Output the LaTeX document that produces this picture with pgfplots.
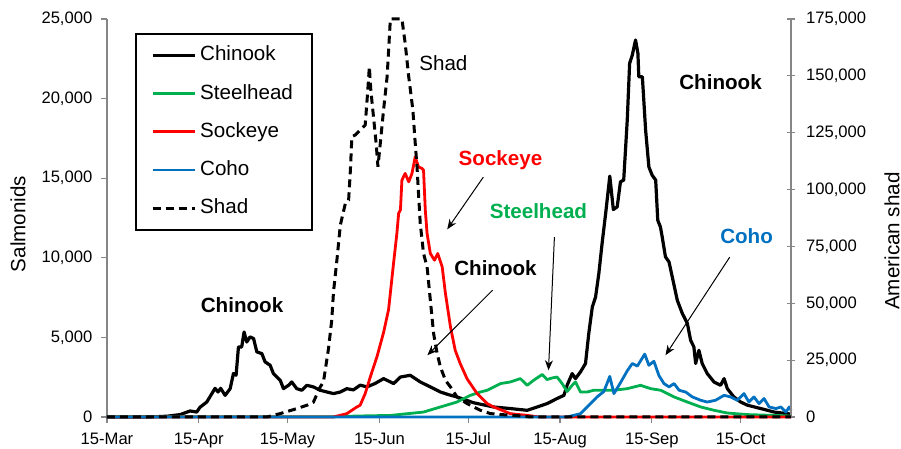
\documentclass[border=0pt]{standalone}
\usepackage{pgfplots}
\pgfplotsset{compat=1.18}
\usepackage{fontspec}
\setmainfont{Liberation Sans}
\usetikzlibrary{arrows.meta}
\definecolor{shgreen}{RGB}{0,176,80}
\definecolor{shblue}{RGB}{0,112,192}
\definecolor{shred}{RGB}{255,0,0}
\definecolor{axgray}{RGB}{134,134,134}
\newcommand{\tfont}{\fontsize{8.3}{10}\selectfont}
\newcommand{\lfont}{\fontsize{10.3}{12}\selectfont}
\begin{document}
\begin{tikzpicture}
\pgfplotsset{
  common/.style={
    width=342pt, height=199pt, scale only axis,
    xmin=0, xmax=231, clip=false,
    axis line style={axgray, line width=0.6pt},
    tick style={axgray, line width=0.6pt},
    ticklabel style={font=\tfont, text=black},
    /pgf/number format/fixed,
    /pgf/number format/precision=0,
    /pgf/number format/1000 sep={,},
    /pgf/number format/assume math mode=true,
    scaled y ticks=false,
    label style={font=\lfont},
  }
}
\begin{axis}[common,
  name=ax1,
  axis x line*=bottom, axis y line*=left,
  ymin=0, ymax=25000,
  ytick={0,5000,10000,15000,20000,25000},
  xtick={0,31,61,92,122,153,184,214},
  xticklabels={15-Mar,15-Apr,15-May,15-Jun,15-Jul,15-Aug,15-Sep,15-Oct},
  tick align=outside, major tick length=2.8pt,
  xticklabel style={yshift=-1.5pt},
  yticklabel style={xshift=-1pt},
  ylabel={Salmonids},
  ylabel style={at={(rel axis cs:-0.130,0.485)}, anchor=center},
  legend style={at={(rel axis cs:0.0409,0.965)}, anchor=north west,
    draw=black, line width=1pt, fill=white, font=\lfont,
    inner xsep=7.5pt, inner ysep=4pt, row sep=5.6pt,
    nodes={inner sep=2pt, text height=7.5pt, text depth=2pt}},
  legend cell align=left,
  legend image code/.code={\draw[#1] (0pt,0pt) -- (21pt,0pt);},
]
\addplot[black, line width=1.6pt, line join=round] coordinates {
(0,0)(14.5,0)(20.3,50)(24.7,150)(28.1,380)(30.3,310)(31.4,610)(33.7,940)(36.5,1800)(37.5,1570)(38.4,1800)(39.9,1360)(41.6,1780)(42.7,2730)(43.6,2620)(44.4,4400)(45.5,4400)(46.3,5340)(47.2,4710)(48.3,5030)(49.5,4930)(50.6,4090)(52.3,3980)(53.4,3460)(55.1,3250)(56.2,2730)(57.4,2510)(58.5,2310)(59.6,1780)(61.3,1990)(62.4,2200)(64.1,1780)(65.8,1680)(67.5,1990)(69.7,1890)(72.0,1680)(74.3,1570)(76.5,1470)(78.8,1570)(81.0,1780)(83.2,1700)(85.5,2000)(87.8,1890)(90.5,2100)(93.4,2410)(96.8,2100)(99.1,2510)(102.4,2620)(105.8,2200)(109.2,1890)(112.6,1570)(115.4,1400)(118.2,1260)(123.7,900)(130.5,630)(136.2,530)(141.9,420)(145.3,630)(148.6,840)(152.0,1160)(154.3,1360)(155.4,2000)(157.1,2730)(158.2,2410)(159.9,2830)(161.6,3360)(162.7,5240)(163.9,6910)(165.0,7540)(166.1,9010)(167.2,10900)(168.4,12780)(169.8,15130)(171.0,13030)(172.3,13200)(173.4,14770)(174.5,14880)(175.7,18650)(176.5,22210)(177.4,22730)(178.5,23680)(179.3,22840)(179.6,21370)(180.8,21370)(181.9,18020)(183.0,15710)(184.1,15190)(185.3,14880)(186.0,12360)(186.9,11940)(187.5,11310)(188.6,10060)(189.8,9740)(190.9,8800)(192.6,7330)(194.3,6500)(196.0,5870)(197.1,4820)(198.2,4400)(198.8,3360)(199.9,4190)(201.0,3360)(202.7,2730)(205.0,2200)(207.2,1990)(208.4,2410)(209.5,1780)(211.7,1260)(214.0,940)(216.3,740)(220.8,530)(225.3,310)(229.8,210)(231,180)
};
\addlegendentry{Chinook}
\addplot[shgreen, line width=1.4pt, line join=round] coordinates {
(0,20)(76.4,20)(84.4,60)(95.7,100)(106.9,310)(112.6,630)(118.2,940)(122.7,1360)(126.1,1570)(128.4,1680)(132.9,2100)(136.2,2200)(139.6,2410)(141.9,1990)(144.1,2310)(147.0,2670)(148.6,2350)(150.3,2450)(152.0,2510)(153.7,2100)(155.4,1600)(157.1,1990)(158.2,2200)(159.9,1570)(162.2,1570)(164.4,1680)(168.9,1680)(171.2,1680)(175.7,1780)(180.2,1990)(183.6,1780)(187.0,1680)(191.5,1260)(196.0,940)(200.5,630)(205.0,420)(209.5,250)(216.3,150)(225.3,100)(231,60)
};
\addlegendentry{Steelhead}
\addplot[shred, line width=1.4pt, line join=round] coordinates {
(0,0)(76.4,0)(81.0,210)(84.4,630)(85.5,740)(87.2,1470)(88.9,2500)(91.2,3800)(93.4,5300)(95.1,6750)(96.8,9700)(97.9,11530)(98.5,12800)(99.1,13000)(99.6,14880)(100.7,15300)(101.9,14770)(103.0,15300)(104.1,16340)(105.2,15710)(106.4,15610)(106.9,15500)(107.5,13000)(108.1,11530)(109.2,10270)(110.6,9850)(111.7,10270)(113.2,9430)(114.3,7760)(116.0,5660)(117.6,4190)(119.3,3350)(121.6,2400)(125.0,1470)(128.4,840)(130.6,630)(136.2,210)(141.9,100)(146,0)(231,0)
};
\addlegendentry{Sockeye}
\addplot[shblue, line width=1.4pt, line join=round] coordinates {
(0,0)(155.4,0)(159.9,210)(163.3,840)(165.5,1260)(167.8,1600)(169.8,2550)(171.2,1470)(173.4,2150)(175.7,2900)(177.4,3360)(179.1,3200)(181.6,3950)(183.0,3250)(184.7,3500)(186.4,2600)(188.1,2100)(189.8,1890)(191.5,2100)(193.2,1680)(195.4,1570)(197.7,1260)(200.5,1050)(202.7,940)(205.5,1050)(208.4,1360)(210.6,1260)(212.9,1050)(215.1,1470)(216.8,940)(218.5,1260)(220.2,840)(221.9,1160)(223.6,630)(225.9,530)(227.6,630)(229.3,310)(230.4,630)(231,420)
};
\addlegendentry{Coho}
\addlegendimage{black, line width=1.5pt, dash pattern=on 4pt off 2.5pt}
\addlegendentry{Shad}
% annotations
\node[font=\lfont] at (axis cs:113.6,22230) {Shad};
\node[font=\lfont\bfseries, text=shred] at (axis cs:132.9,16130) {Sockeye};
\draw[line width=0.5pt, -{Stealth[length=5pt,width=4pt]}] (axis cs:127.1,15070) -- (axis cs:114.9,11790);
\node[font=\lfont\bfseries, text=shgreen] at (axis cs:145.7,12930) {Steelhead};
\draw[line width=0.5pt, -{Stealth[length=5pt,width=4pt]}] (axis cs:151.1,11300) -- (axis cs:149.1,2935);
\node[font=\lfont\bfseries] at (axis cs:131.2,9350) {Chinook};
\draw[line width=0.5pt, -{Stealth[length=5pt,width=4pt]}] (axis cs:130.2,7960) -- (axis cs:108.2,3880);
\node[font=\lfont\bfseries] at (axis cs:207.2,21040) {Chinook};
\node[font=\lfont\bfseries] at (axis cs:45.6,7020) {Chinook};
\node[font=\lfont\bfseries, text=shblue] at (axis cs:216.0,11360) {Coho};
\draw[line width=0.5pt, -{Stealth[length=5pt,width=4pt]}] (axis cs:210.3,10040) -- (axis cs:188.6,3880);
\coordinate (bbl) at (rel axis cs:-0.1564,-0.0804);
\coordinate (btr) at (rel axis cs:1.1608,1.0477);
\end{axis}
\begin{axis}[common,
  axis x line=none, axis y line*=right,
  ymin=0, ymax=175000,
  ytick={0,25000,50000,75000,100000,125000,150000,175000},
  tick align=center, major tick length=4pt,
  yticklabel style={xshift=2pt},
  ylabel={American shad},
  ylabel style={at={(rel axis cs:1.1477,0.442)}, anchor=center},
]
\addplot[black, line width=1.5pt, dash pattern=on 4pt off 2.5pt] coordinates {
(0,0)(54.0,0)(58.5,1500)(63.0,3260)(67.5,5150)(69.7,6500)(72.0,13200)(73.1,15400)(73.7,20550)(74.8,30000)(75.9,42550)(76.5,55000)(77.7,69700)(78.8,84350)(80.5,93900)(81.6,95350)(82.2,108550)(82.7,123200)(83.8,123950)(85.5,126150)(87.2,128350)(88.0,142300)(88.6,154000)(89.1,143750)(90.0,132000)(90.9,120300)(91.5,110000)(92.3,120300)(93.4,134950)(94.6,149600)(95.7,175000)(97.9,175000)(99.6,175000)(100.7,164300)(101.9,149600)(102.4,144500)(103.3,134950)(104.1,120300)(104.7,110000)(105.2,98300)(105.8,85000)(106.9,71900)(108.1,66000)(109.2,51350)(110.3,36700)(111.5,27900)(112.6,22000)(114.3,16150)(116.0,13200)(118.2,8800)(121.6,5900)(126.1,2950)(129.5,1500)(133.9,1000)(138.5,600)(143,0)(231,0)
};
\end{axis}
\pgfresetboundingbox
\path[use as bounding box] (bbl) rectangle (btr);
\end{tikzpicture}
\end{document}
